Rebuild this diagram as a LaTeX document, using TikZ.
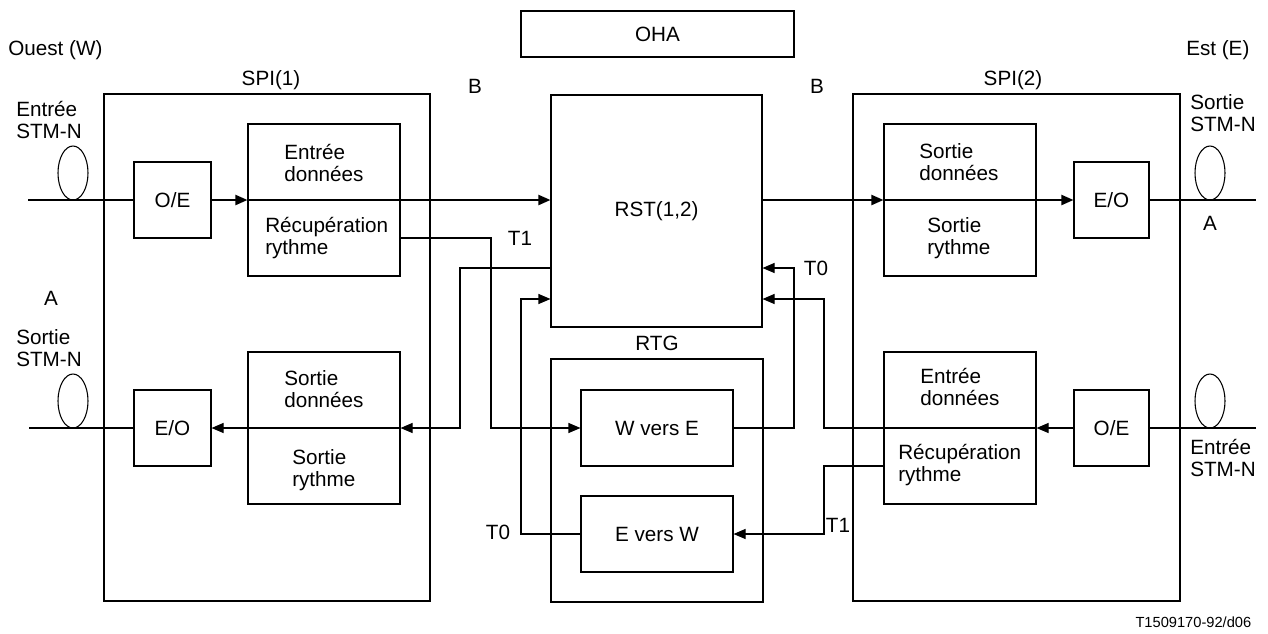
\documentclass[tikz,border=0pt]{standalone}
\usepackage{fontspec}
\setmainfont{Liberation Sans}
\usetikzlibrary{arrows.meta}

\begin{document}
\begin{tikzpicture}[x=0.75pt,y=0.75pt,yscale=-1,xscale=1,
  font=\fontsize{15.5}{17}\selectfont,
  box/.style 2 args={draw, line width=0.8pt, inner sep=0pt, minimum width=#1, minimum height=#2},
  txt/.style={inner sep=0.75pt, align=left},
  wire/.style={line width=0.8pt},
  data/.style={line width=1.5pt},
  arr/.style={-{Triangle[length=9pt,width=7.5pt]}}]
\useasboundingbox (0,0) rectangle (1268,633);

% Outer blocks
\node (spi1) [box={244.5pt}{380.25pt}] at (267,347.5) {};
\node (spi2) [box={245.25pt}{380.25pt}] at (1016.5,347.5) {};
\node (oha) [box={204.75pt}{34.5pt}] at (657.5,34) {OHA};
\node (rst) [box={158.25pt}{174pt}] at (656.5,211) {RST(1,2)};
\node (rtg) [box={159pt}{182.25pt}] at (657,480.5) {};

% Inner blocks
\node (oe1) [box={57.75pt}{57pt}] at (172.5,200) {O/E};
\node (eo1) [box={57.75pt}{57pt}] at (172.5,428) {E/O};
\node (eo2) [box={56.25pt}{57pt}] at (1111.5,200) {E/O};
\node (oe2) [box={56.25pt}{57pt}] at (1111.5,428) {O/E};
\node (ed1) [box={114pt}{114pt}] at (324,200) {};
\node (sd1) [box={114pt}{114pt}] at (324,428) {};
\node (sd2) [box={114pt}{114pt}] at (960,200) {};
\node (ed2) [box={114pt}{114pt}] at (960,428) {};
\node (wve) [box={114pt}{57pt}] at (657,428) {W vers E};
\node (evw) [box={114pt}{57pt}] at (657,534) {E vers W};

% Text Node
\node (ed1a) [txt, anchor=west] at (283,163) {Entrée\\données};
\node (ed1b) [txt, anchor=west] at (264,238) {Récupération\\rythme};
\node (sd1a) [txt, anchor=west] at (283,389) {Sortie\\données};
\node (sd1b) [txt, anchor=west] at (291,470) {Sortie\\rythme};
\node (sd2a) [txt, anchor=west] at (918,162) {Sortie\\données};
\node (sd2b) [txt, anchor=west] at (926,238) {Sortie\\rythme};
\node (ed2a) [txt, anchor=west] at (919,387) {Entrée\\données};
\node (ed2b) [txt, anchor=west] at (897,465) {Récupération\\rythme};

% Text Node
\node (west) [txt, anchor=west] at (7,50) {Ouest (W)};
\node (east) [txt, anchor=west] at (1185,50) {Est (E)};
\node (spi1l) at (271,80) {SPI(1)};
\node (spi2l) at (1013,80) {SPI(2)};
\node (b1) at (475,86) {B};
\node (b2) at (817,86) {B};
\node (rtgl) at (657,343) {RTG};
\node (inw) [txt, anchor=west] at (15,120) {Entrée\\STM-N};
\node (outw) [txt, anchor=west] at (15,348) {Sortie\\STM-N};
\node (oute) [txt, anchor=west] at (1189,113) {Sortie\\STM-N};
\node (ine) [txt, anchor=west] at (1189,458) {Entrée\\STM-N};
\node (aw) at (51,298) {A};
\node (ae) at (1210,223) {A};
\node (t1w) at (520,238) {T1};
\node (t0e) at (816,268) {T0};
\node (t0w) at (498,532) {T0};
\node (t1e) at (838,525) {T1};
\node (ref) [anchor=east, font=\fontsize{11}{13}\selectfont] at (1256,622) {T1509170-92/d06};

% Fibres
\draw[wire] (73,173) ellipse [x radius=15, y radius=27];
\draw[wire] (73,401) ellipse [x radius=15, y radius=27];
\draw[wire] (1210,173) ellipse [x radius=15, y radius=27];
\draw[wire] (1210,401) ellipse [x radius=15, y radius=27];

% Free ends and bends
\coordinate (inw1) at (28,200);
\coordinate (outw1) at (29,428);
\coordinate (oute1) at (1256,200);
\coordinate (ine1) at (1256,428);
\coordinate (k1) at (460,268);
\coordinate (k2) at (491,238);
\coordinate (k3) at (521,299);
\coordinate (k4) at (794,268);
\coordinate (k5) at (824,299);
\coordinate (k6) at (824,466);

% West to east data
\draw[data] (inw1) -- (oe1.west);
\draw[data,arr] (oe1.east) -- (ed1.west);
\draw[data,arr] (ed1.west) -- (ed1.west -| rst.west);
\draw[data,arr] (rst.east |- sd2.west) -- (sd2.west);
\draw[data,arr] (sd2.west) -- (eo2.west);
\draw[data] (eo2.east) -- (oute1);

% East to west data
\draw[wire] (ine1) -- (oe2.east);
\draw[wire,arr] (oe2.west) -- (ed2.east);
\draw[wire,arr] (ed2.east) -| (k5) -- (k5 -| rst.east);
\draw[wire,arr] (k1 -| rst.west) -- (k1) |- (sd1.east);
\draw[wire,arr] (sd1.east) -- (eo1.east);
\draw[wire] (eo1.west) -- (outw1);

% Timing
\draw[wire,arr] (k2 -| ed1.east) -- (k2) |- (wve.west);
\draw[wire,arr] (wve.east) -| (k4) -- (k4 -| rst.east);
\draw[wire,arr] (k6 -| ed2.west) -- (k6) |- (evw.east);
\draw[wire,arr] (evw.west) -| (k3) -- (k3 -| rst.west);

\end{tikzpicture}
\end{document}
